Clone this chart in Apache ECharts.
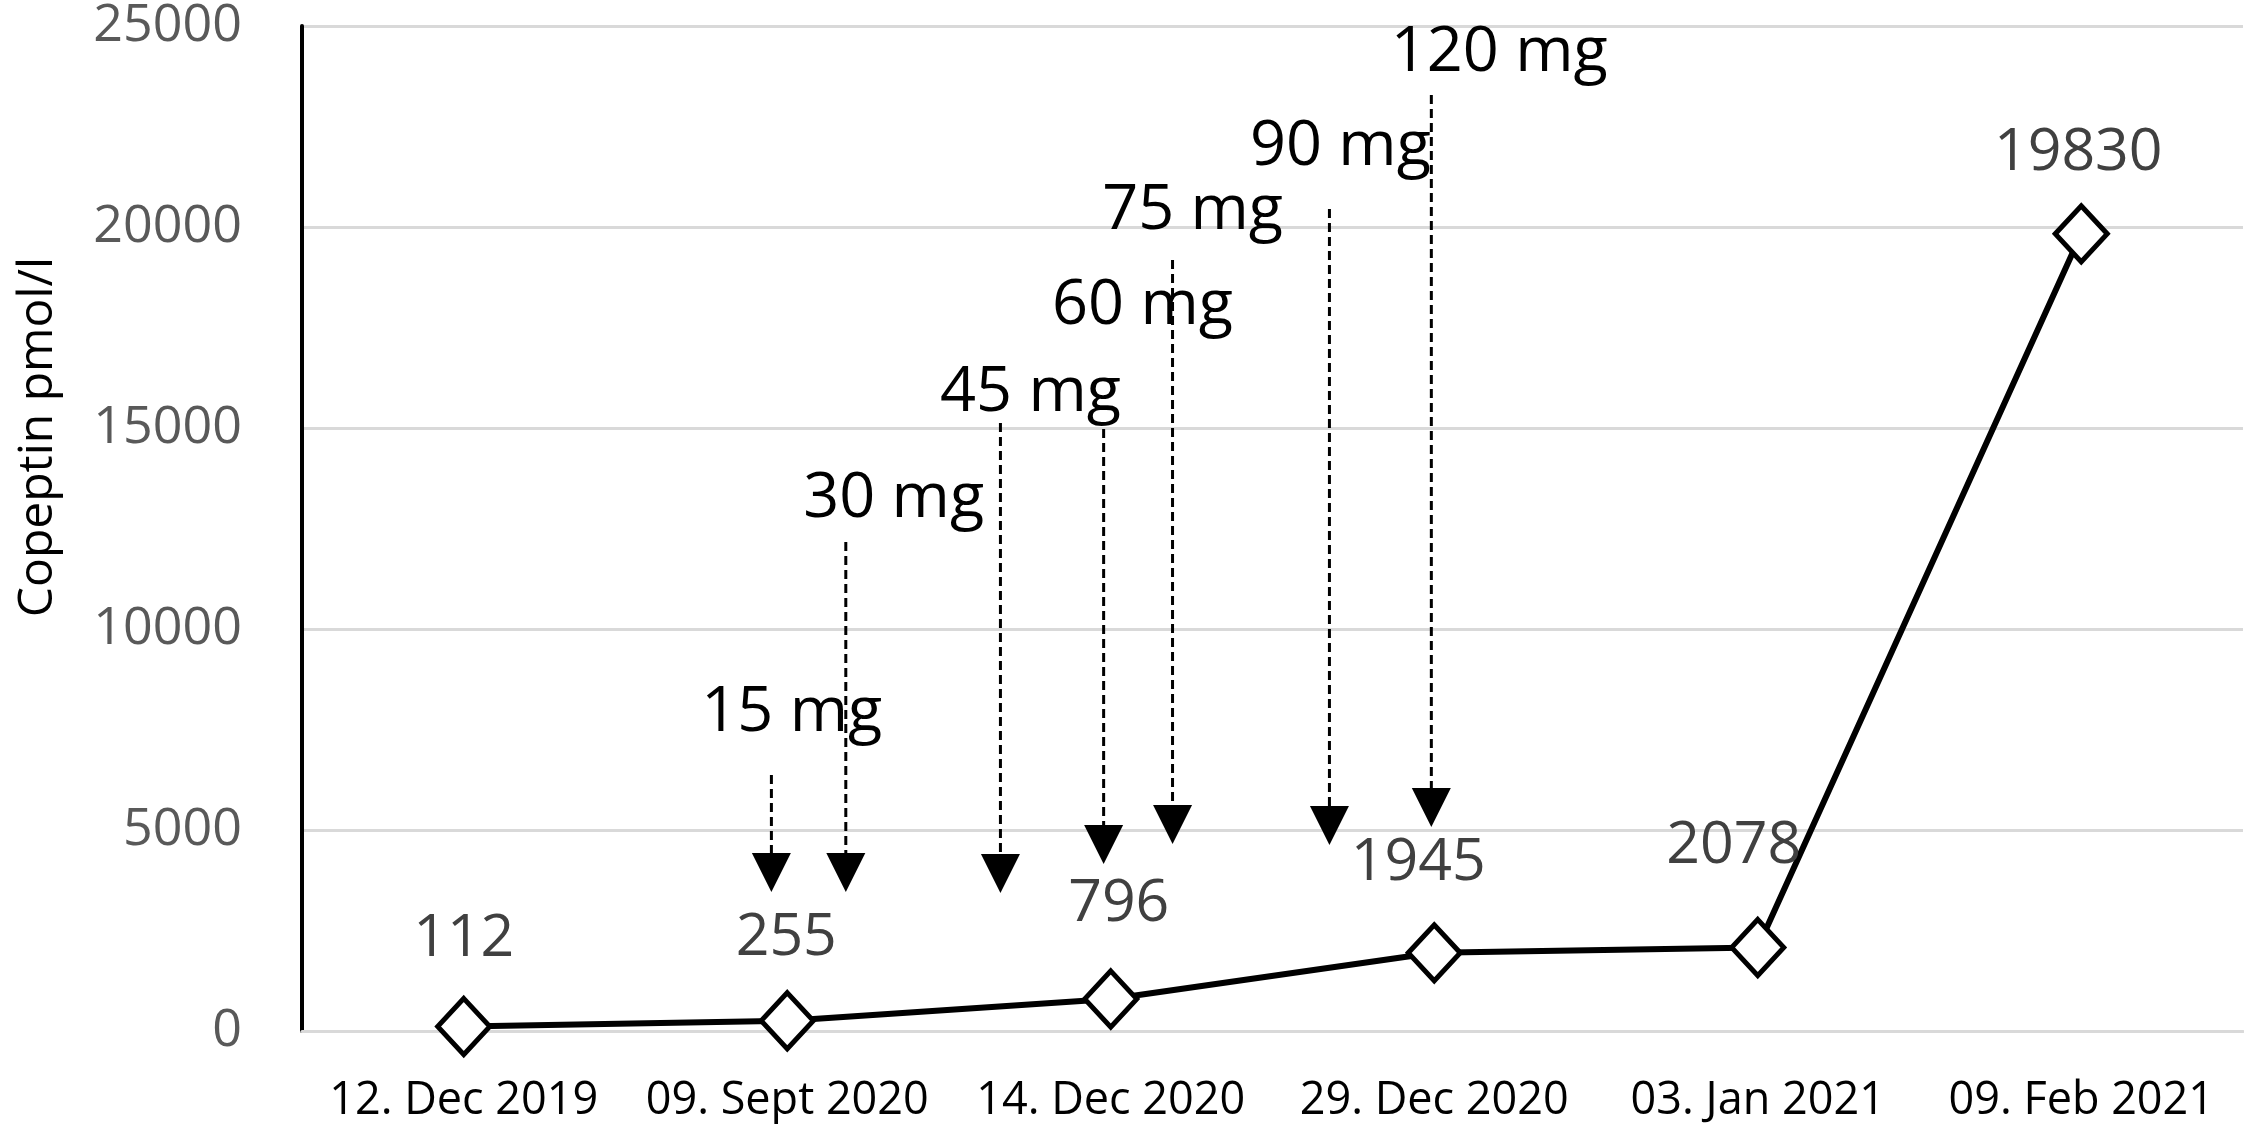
<!DOCTYPE html>
<html>
<head>
<meta charset="utf-8">
<script src="https://cdn.jsdelivr.net/npm/echarts@6/dist/echarts.min.js"></script>
<style>
  html, body { margin: 0; padding: 0; background: #fff; }
  #chart { width: 2244px; height: 1124px; }
</style>
</head>
<body>
<div id="chart"></div>
<script>
// ---- data ----
const categories = ['12. Dec 2019', '09. Sept 2020', '14. Dec 2020', '29. Dec 2020', '03. Jan 2021', '09. Feb 2021'];
const copeptin = [112, 255, 796, 1945, 2078, 19830];
const yMin = 0, yMax = 25000, yStep = 5000;

// dose annotations (x in category units 0..6, y in pmol/l)
const doseLabels = ['15 mg', '30 mg', '45 mg', '60 mg', '75 mg', '90 mg', '120 mg'];
const arrowX    = [1.451, 1.681, 2.159, 2.478, 2.691, 3.176, 3.491];
const arrowTop  = [6368, 12164, 15124, 14975, 19179, 20448, 23284];
const arrowTip  = [3458, 3458, 3433, 4154, 4652, 4627, 5075];
const doseTextX = [1.514, 1.829, 2.252, 2.598, 2.753, 3.210, 3.701];
const doseTextY = [7910, 13234, 15871, 18035, 20398, 21990, 24328];

// label offsets (styling)
const labelOffsets = [[0, -87], [-1, -83], [8, -95], [-16, -90], [-24, -101], [-3, -81]];

const FONT = '"Open Sans", "Liberation Sans", sans-serif';
const chart = echarts.init(document.getElementById('chart'));

const annData = doseLabels.map((d, i) => [arrowX[i], arrowTop[i], arrowTip[i], doseTextX[i], doseTextY[i]]);

chart.setOption({
  animation: false,
  backgroundColor: '#fff',
  grid: { left: 302, right: 1, top: 26, bottom: 93, containLabel: false },
  xAxis: [
    {
      type: 'category',
      data: categories,
      boundaryGap: true,
      axisLine: { show: true, lineStyle: { color: '#d9d9d9', width: 3 } },
      axisTick: { show: false },
      axisLabel: { fontSize: 45, color: '#000', fontFamily: FONT, margin: 48, interval: 0 },
      splitLine: { show: false }
    },
    { type: 'value', min: 0, max: 6, show: false }
  ],
  yAxis: {
    type: 'value',
    min: yMin, max: yMax, interval: yStep,
    axisLine: { show: true, lineStyle: { color: '#000', width: 4 } },
    axisTick: { show: false },
    axisLabel: { fontSize: 52, color: '#595959', fontFamily: FONT, margin: 60,
                 formatter: function (v) { return String(v); } },
    splitLine: { show: true, lineStyle: { color: '#d9d9d9', width: 3 } }
  },
  graphic: [{
    type: 'text',
    x: 38, y: 437,
    rotation: Math.PI / 2,
    style: {
      text: 'Copeptin pmol/l', fill: '#000', fontSize: 48, fontFamily: FONT,
      align: 'center', verticalAlign: 'middle'
    }
  }],
  series: [
    {
      type: 'custom',
      xAxisIndex: 1,
      yAxisIndex: 0,
      encode: { x: [0, 3], y: [1, 2, 4] },
      data: annData,
      z: 1,
      renderItem: function (params, api) {
        const x = api.value(0), top = api.value(1), tip = api.value(2);
        const pTop = api.coord([x, top]);
        const pTip = api.coord([x, tip]);
        const pl = api.coord([api.value(3), api.value(4)]);
        const ah = 39, aw = 39;
        return {
          type: 'group',
          children: [
            { type: 'line', shape: { x1: pTop[0], y1: pTop[1], x2: pTip[0], y2: pTip[1] - ah + 2 },
              style: { stroke: '#000', lineWidth: 3, lineDash: [9, 5] } },
            { type: 'polygon', shape: { points: [[pTip[0] - aw / 2, pTip[1] - ah], [pTip[0] + aw / 2, pTip[1] - ah], [pTip[0], pTip[1]]] },
              style: { fill: '#000' } },
            { type: 'text', x: pl[0], y: pl[1],
              style: { text: doseLabels[params.dataIndex], fill: '#000', fontSize: 63, fontFamily: FONT,
                       align: 'center', verticalAlign: 'middle' } }
          ]
        };
      }
    },
    {
      type: 'line',
      data: copeptin.map((v, i) => ({ value: v, label: { offset: labelOffsets[i] } })),
      symbol: 'diamond',
      symbolSize: [52, 56],
      z: 3,
      lineStyle: { color: '#000', width: 6 },
      itemStyle: { color: '#fff', borderColor: '#000', borderWidth: 5 },
      label: {
        show: true, position: 'inside',
        fontSize: 59, color: '#404040', fontFamily: FONT
      }
    }
  ]
});
</script>
</body>
</html>
